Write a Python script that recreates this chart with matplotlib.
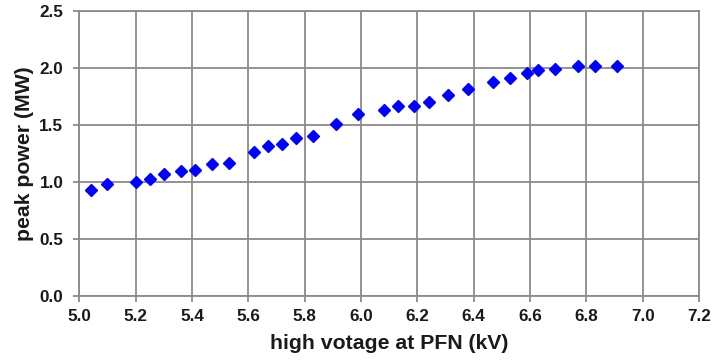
import matplotlib
matplotlib.use("Agg")
import matplotlib.pyplot as plt

voltage_kv = [5.04, 5.10, 5.20, 5.25, 5.30, 5.36, 5.41, 5.47, 5.53, 5.62, 5.67, 5.72,
              5.77, 5.83, 5.91, 5.99, 6.08, 6.13, 6.19, 6.24, 6.31, 6.38, 6.47, 6.53,
              6.59, 6.63, 6.69, 6.77, 6.83, 6.91]
peak_power_mw = [0.93, 0.98, 1.00, 1.03, 1.07, 1.10, 1.105, 1.16, 1.17, 1.26, 1.32, 1.33,
                 1.39, 1.405, 1.51, 1.60, 1.635, 1.665, 1.665, 1.705, 1.765, 1.82, 1.875, 1.915,
                 1.96, 1.98, 1.995, 2.02, 2.02, 2.02]
x_ticks = [5.0, 5.2, 5.4, 5.6, 5.8, 6.0, 6.2, 6.4, 6.6, 6.8, 7.0, 7.2]
y_ticks = [0.0, 0.5, 1.0, 1.5, 2.0, 2.5]

plt.rcParams['font.family'] = ['Liberation Sans', 'DejaVu Sans']

fig = plt.figure(figsize=(7.12, 3.62), dpi=100)
ax = fig.add_axes([0.1114, 0.1823, 0.8703, 0.7873])

ax.plot(voltage_kv, peak_power_mw, linestyle='none', marker='D', markersize=6.4,
        color='#0000FF', markeredgecolor='#0000FF', zorder=3, clip_on=False)

ax.set_xlim(5.0, 7.2)
ax.set_ylim(0.0, 2.5)
ax.set_xticks(x_ticks)
ax.set_yticks(y_ticks)
ax.set_xticklabels([f"{v:.1f}" for v in x_ticks])
ax.set_yticklabels([f"{v:.1f}" for v in y_ticks])
ax.grid(True, color='#8a8a8a', linewidth=1.3)
ax.set_axisbelow(True)
for s in ax.spines.values():
    s.set_color('#8a8a8a')
    s.set_linewidth(1.3)
ax.tick_params(direction='out', length=4, width=1.3, color='#8a8a8a', labelsize=12.3)
ax.tick_params(axis='x', pad=5)
ax.tick_params(axis='y', pad=7.5)
for lab in ax.get_xticklabels() + ax.get_yticklabels():
    lab.set_fontweight('bold')
    lab.set_color('#1a1a1a')

ax.set_xlabel('high votage at PFN (kV)', fontsize=15.3, fontweight='bold', color='#1a1a1a')
ax.set_ylabel('peak power (MW)', fontsize=15.3, fontweight='bold', color='#1a1a1a')
ax.xaxis.set_label_coords(0.5, -0.135)
ax.yaxis.set_label_coords(-0.0725, 0.5)

fig.savefig('out.png', dpi=100, facecolor='white')
